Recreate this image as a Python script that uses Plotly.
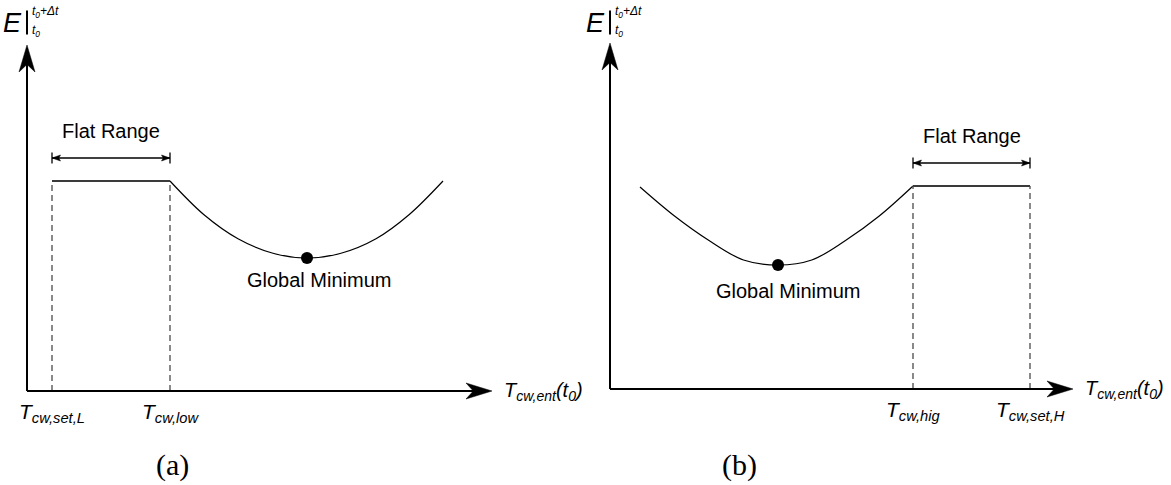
import plotly.graph_objects as go

# ---- panel (a): flat range on the low side ----
a_t_set_L = 1.0
a_t_low = 5.72
a_flat_level = 8.4
a_curve_x = [5.72, 7.08, 8.44, 9.84, 11.2, 12.56, 13.96, 15.28, 16.64]
a_curve_y = [8.4, 7.05, 6.09, 5.51, 5.32, 5.51, 6.09, 7.05, 8.4]
a_min = (11.2, 5.32)
a_axis_x_end = 18.6
a_axis_y_end = 13.84

# ---- panel (b): flat range on the high side ----
b_t_hig = 12.12
b_t_set_H = 16.8
b_flat_level = 8.12
b_curve_x = [1.2, 2.58, 3.96, 5.34, 6.72, 8.07, 9.42, 10.77, 12.12]
b_curve_y = [8.08, 6.92, 5.94, 5.16, 4.96, 5.16, 5.94, 6.92, 8.12]
b_min = (6.72, 4.96)
b_axis_x_end = 18.52
b_axis_y_end = 13.84

tick_labels_a = ["<i>T</i><sub><i>cw,set,L</i></sub>", "<i>T</i><sub><i>cw,low</i></sub>"]
tick_labels_b = ["<i>T</i><sub><i>cw,hig</i></sub>", "<i>T</i><sub><i>cw,set,H</i></sub>"]
x_title = "<i>T</i><sub><i>cw,ent</i></sub><i>(t</i><sub><i>0</i></sub><i>)</i>"

SANS = "Liberation Sans, Arial, sans-serif"
SERIF = "Liberation Serif, Times New Roman, serif"

fig = go.Figure()
shapes = []
annotations = []


def arrow_head(tip, direction, length, half_w, notch, xr, yr, color="black"):
    """Filled (slightly concave) arrowhead pointing along direction (unit vector)."""
    tx, ty = tip
    dx, dy = direction
    px, py = -dy, dx
    bx, by = tx - dx * length, ty - dy * length
    nx, ny = tx - dx * length * notch, ty - dy * length * notch
    path = (f"M {tx},{ty} L {bx + px * half_w},{by + py * half_w} "
            f"L {nx},{ny} L {bx - px * half_w},{by - py * half_w} Z")
    return dict(type="path", path=path, xref=xr, yref=yr,
                fillcolor=color, line=dict(color=color, width=0.5))


def panel(xref, yref, t1, t2, flat_level, curve_x, curve_y, gmin, x_end, y_end,
          labels, flat_txt, gm_txt, letter, e_pos):
    # curve + flat segment + dashed guides + minimum marker
    fig.add_trace(go.Scatter(x=curve_x, y=curve_y, mode="lines",
                             line=dict(color="black", width=1.2, shape="spline"),
                             xaxis=xref, yaxis=yref, hoverinfo="skip"))
    fig.add_trace(go.Scatter(x=[t1, t2], y=[flat_level, flat_level],
                             mode="lines", line=dict(color="#3a3a3a", width=1.8),
                             xaxis=xref, yaxis=yref, hoverinfo="skip"))
    for xv in (t1, t2):
        fig.add_trace(go.Scatter(x=[xv, xv], y=[0, flat_level], mode="lines",
                                 line=dict(color="#4a4a4a", width=1.3, dash="6px,4px"),
                                 xaxis=xref, yaxis=yref, hoverinfo="skip"))
    fig.add_trace(go.Scatter(x=[gmin[0]], y=[gmin[1]], mode="markers",
                             marker=dict(color="black", size=12),
                             xaxis=xref, yaxis=yref, hoverinfo="skip"))

    # axes with arrowheads
    shapes.append(dict(type="line", xref=xref, yref=yref, x0=0, y0=0, x1=x_end - 0.6, y1=0,
                       line=dict(color="black", width=2)))
    shapes.append(dict(type="line", xref=xref, yref=yref, x0=0, y0=0, x1=0, y1=y_end - 0.6,
                       line=dict(color="black", width=2)))
    shapes.append(arrow_head((x_end, 0), (1, 0), 1.04, 0.32, 0.72, xref, yref))
    shapes.append(arrow_head((0, y_end), (0, 1), 1.08, 0.32, 0.72, xref, yref))

    # "Flat Range" dimension arrow
    fy = flat_level + 0.92
    shapes.append(dict(type="line", xref=xref, yref=yref, x0=t1, y0=fy, x1=t2, y1=fy,
                       line=dict(color="black", width=1.3)))
    for xv in (t1, t2):
        shapes.append(dict(type="line", xref=xref, yref=yref, x0=xv, y0=fy - 0.22,
                           x1=xv, y1=fy + 0.22, line=dict(color="black", width=1.3)))
    shapes.append(arrow_head((t1, fy), (-1, 0), 0.34, 0.12, 0.8, xref, yref))
    shapes.append(arrow_head((t2, fy), (1, 0), 0.34, 0.12, 0.8, xref, yref))
    annotations.append(dict(x=(t1 + t2) / 2, y=fy + 1.1, xref=xref, yref=yref,
                            text=flat_txt, showarrow=False,
                            font=dict(family=SANS, size=20, color="black")))

    # tick labels under the dashed guides
    for xv, lab in zip((t1, t2), labels):
        annotations.append(dict(x=xv, y=-0.86, xref=xref, yref=yref, text=lab,
                                showarrow=False, xanchor="center", yanchor="middle",
                                font=dict(family=SANS, size=21, color="black")))
    # axis title
    annotations.append(dict(x=x_end + 0.4, y=0.0, xref=xref, yref=yref, text=x_title,
                            showarrow=False, xanchor="left", yanchor="middle",
                            font=dict(family=SANS, size=20, color="black")))
    # minimum label
    annotations.append(dict(x=gm_txt[0], y=gm_txt[1], xref=xref, yref=yref,
                            text="Global Minimum", showarrow=False,
                            font=dict(family=SANS, size=20, color="black")))
    # panel letter
    annotations.append(dict(x=letter[0], y=letter[1], xref=xref, yref=yref,
                            text=letter[2], showarrow=False,
                            font=dict(family=SERIF, size=30, color="black")))

    # y-axis label: E|  with limits t0+Δt and t0
    ex, ey = e_pos
    shapes.append(dict(type="line", xref=xref, yref=yref, x0=0, y0=ey + 0.5, x1=0,
                       y1=ey - 0.46, line=dict(color="black", width=2)))
    annotations.append(dict(x=-0.14, y=ey, xref=xref, yref=yref, text="<i>E</i>",
                            showarrow=False, xanchor="right", yanchor="middle",
                            font=dict(family=SANS, size=27, color="black")))
    annotations.append(dict(x=0.12, y=ey + 0.44, xref=xref, yref=yref,
                            text="<i>t</i><sub><i>0</i></sub><i>+Δt</i>",
                            showarrow=False, xanchor="left", yanchor="middle",
                            font=dict(family=SANS, size=12, color="black")))
    annotations.append(dict(x=0.12, y=ey - 0.3, xref=xref, yref=yref,
                            text="<i>t</i><sub><i>0</i></sub>",
                            showarrow=False, xanchor="left", yanchor="middle",
                            font=dict(family=SANS, size=12, color="black")))


panel("x", "y", a_t_set_L, a_t_low, a_flat_level, a_curve_x, a_curve_y, a_min,
      a_axis_x_end, a_axis_y_end, tick_labels_a, "Flat Range",
      (11.68, 4.44), (5.8, -2.96, "(a)"), (0, 14.72))
panel("x2", "y2", b_t_hig, b_t_set_H, b_flat_level, b_curve_x, b_curve_y, b_min,
      b_axis_x_end, b_axis_y_end, tick_labels_b, "Flat Range",
      (7.12, 3.92), (5.16, -3.04, "(b)"), (0, 14.64))

hidden = dict(visible=False, fixedrange=True)
fig.update_layout(
    width=1171, height=485, autosize=False,
    margin=dict(l=0, r=0, t=0, b=0),
    paper_bgcolor="white", plot_bgcolor="white",
    showlegend=False,
    xaxis=dict(domain=[0, 0.5], range=[-1.08, 22.34], **hidden),
    yaxis=dict(domain=[0, 1], range=[-3.76, 15.64], **hidden),
    xaxis2=dict(domain=[0.5, 1], range=[-0.98, 22.44], anchor="y2", **hidden),
    yaxis2=dict(domain=[0, 1], range=[-3.84, 15.56], anchor="x2", **hidden),
    shapes=shapes,
    annotations=annotations,
)

fig.write_html("out.html")
